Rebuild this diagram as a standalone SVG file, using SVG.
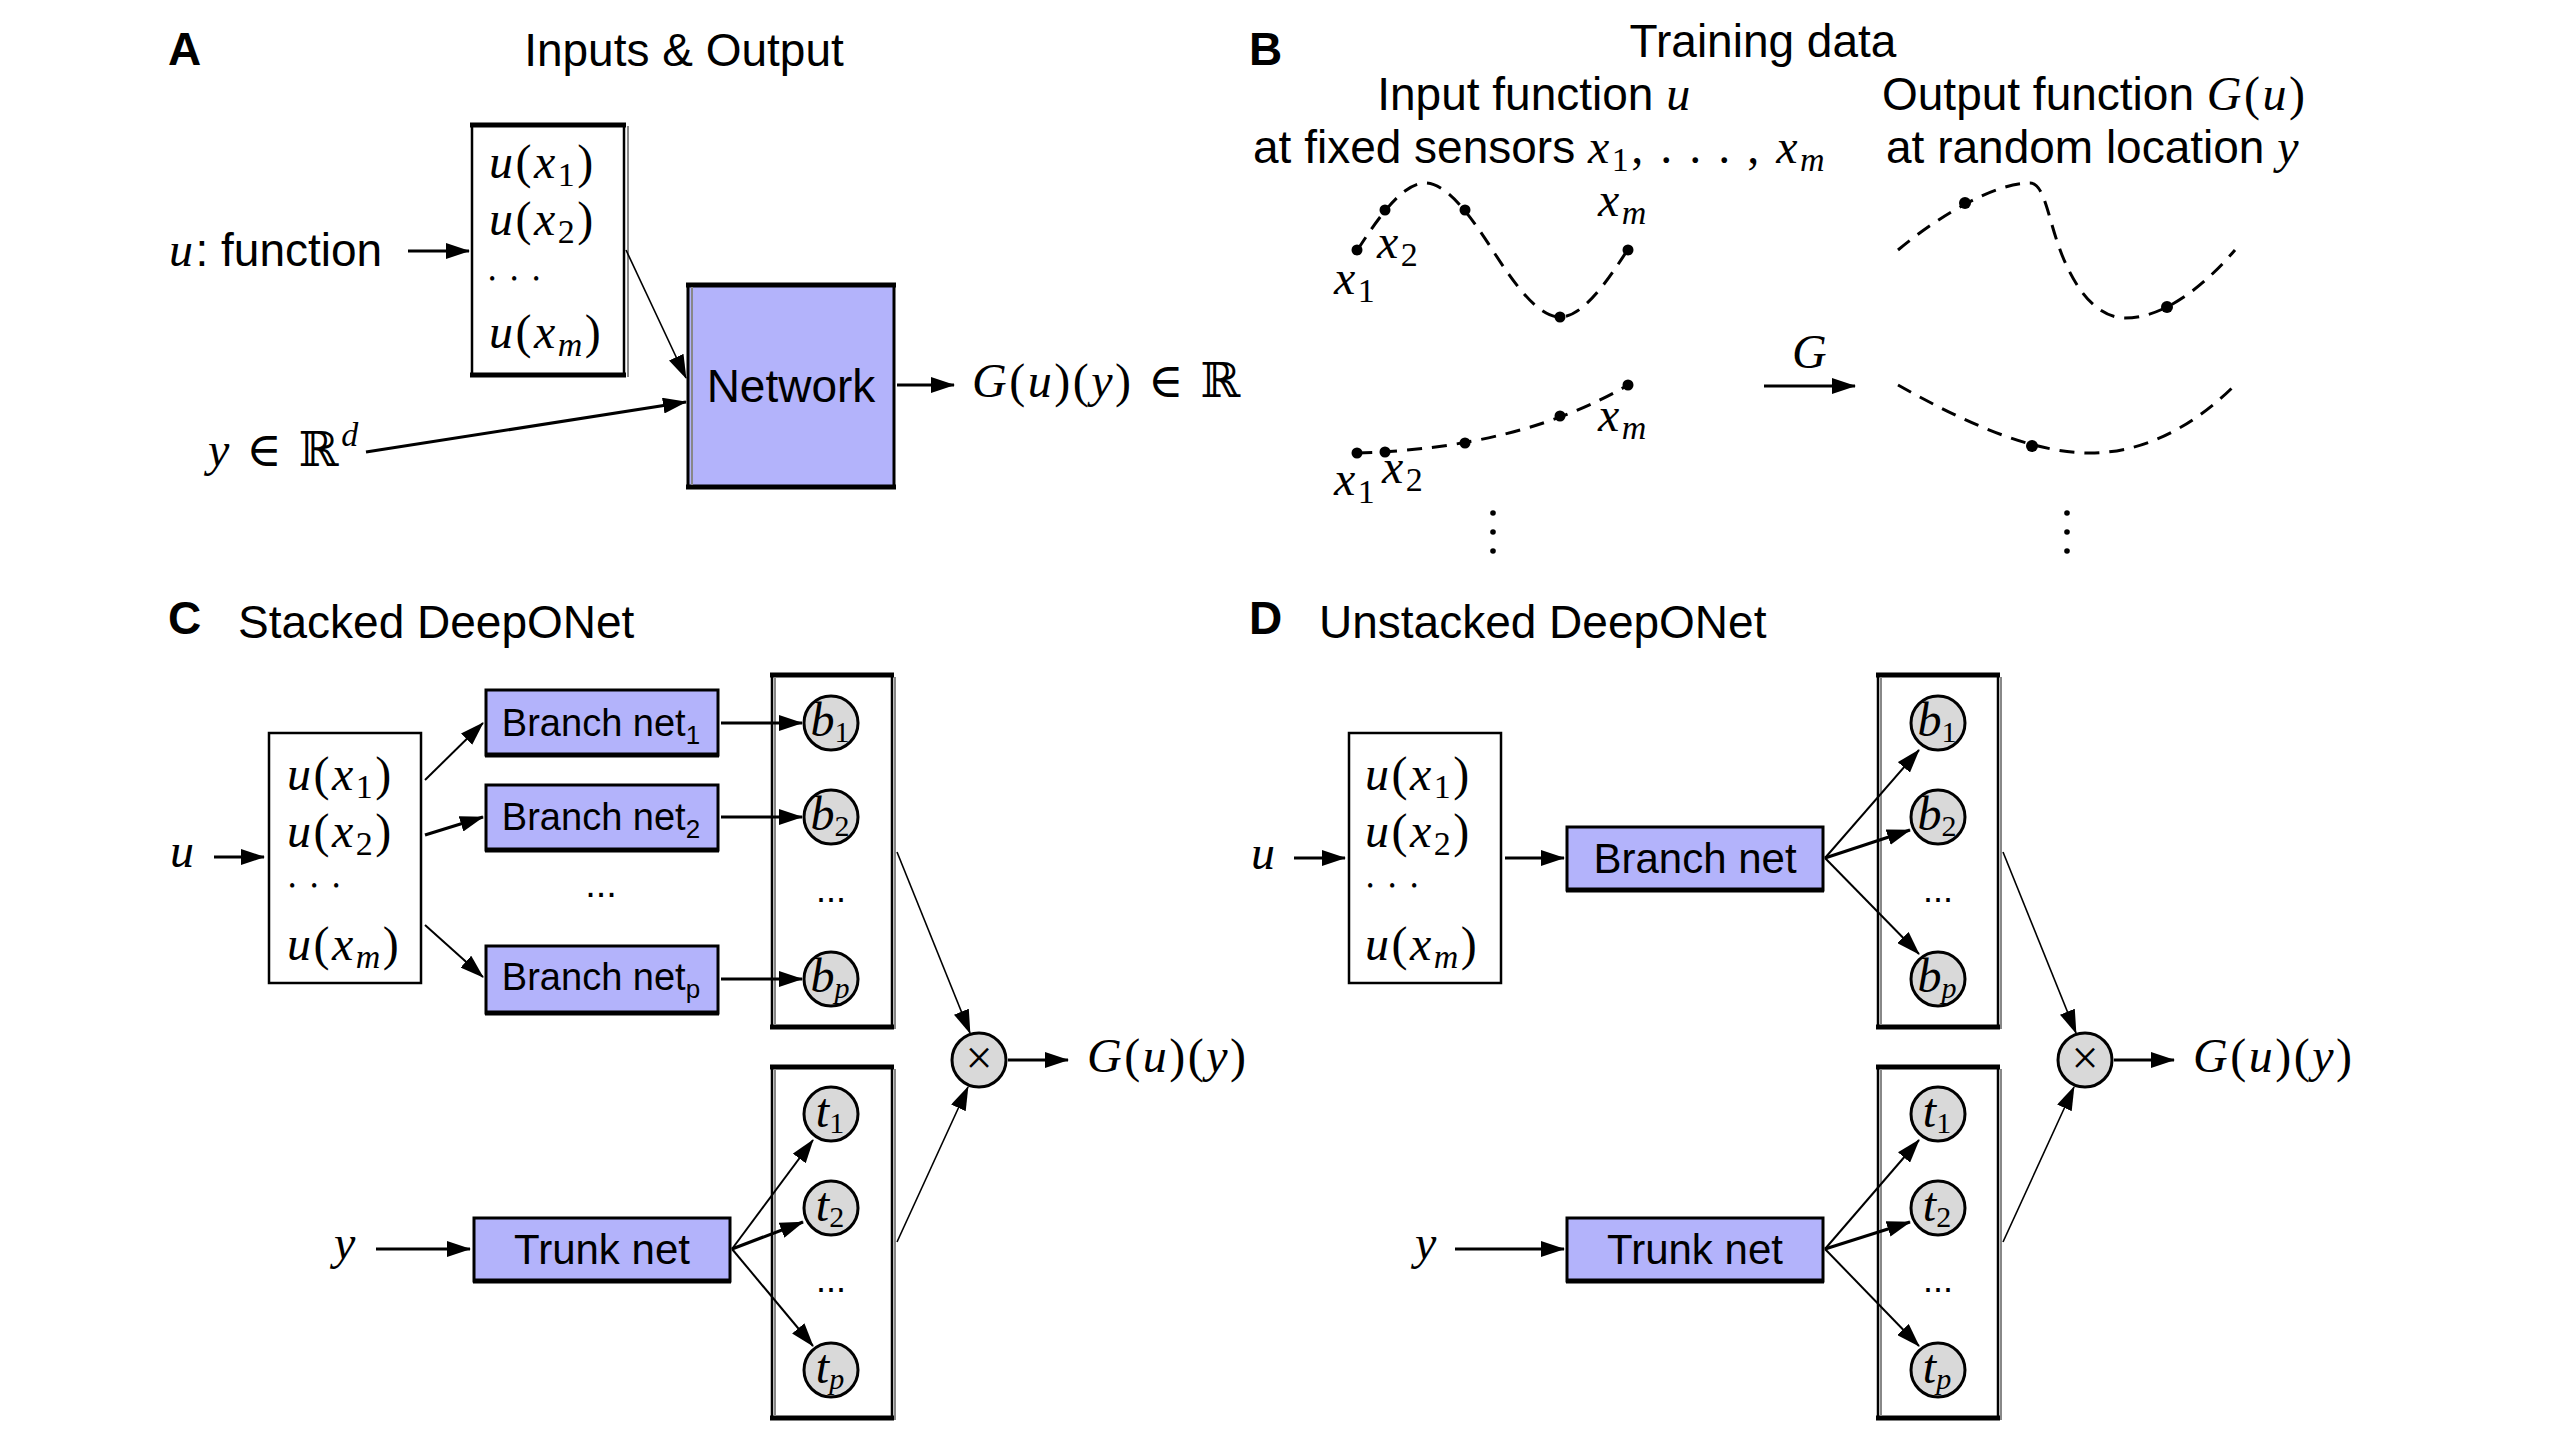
<svg xmlns="http://www.w3.org/2000/svg" width="2560" height="1440" viewBox="0 0 2560 1440">
<style>
.sans{font-family:'Liberation Sans',Arial,Helvetica,sans-serif;fill:#000;letter-spacing:0}
.lbl{font-family:'Liberation Sans',Arial,sans-serif;font-weight:bold;font-size:46px}
.ttl{font-size:46px}
.m{font-family:'Liberation Serif','DejaVu Serif',serif;font-size:48px;fill:#000;letter-spacing:2.5px}
.cl{letter-spacing:0}
.i{font-style:italic}
.dots{font-family:'Liberation Serif','DejaVu Serif',serif;font-size:18px;letter-spacing:5.6px}
.box{fill:#fff;stroke:#000;stroke-width:2.5}
.net{fill:#b3b3fb;stroke:#000;stroke-width:3}
.thk{stroke:#000;stroke-width:5}
.sh{stroke:#888;stroke-width:2}
.nd{fill:#d9d9d9;stroke:#000;stroke-width:3}
.c{fill:none;stroke:#000}
.a3{stroke-width:3.2}
.a2{stroke-width:2}
.a1{stroke-width:1.6}
.dash{fill:none;stroke:#000;stroke-width:3;stroke-dasharray:15 10}
</style>
<defs>
<marker id="ah" viewBox="0 0 24 16" refX="23" refY="8" markerWidth="24" markerHeight="16" markerUnits="userSpaceOnUse" orient="auto"><path d="M0,0 L24,8 L0,16 z" fill="#000"/></marker>
</defs>
<rect width="2560" height="1440" fill="#fff"/>

<!-- Panel labels and titles -->
<g id="titles">
<text class="lbl" x="168" y="65">A</text>
<text class="sans ttl" x="684" y="66" text-anchor="middle">Inputs &amp; Output</text>
<text class="lbl" x="1249" y="65">B</text>
<text class="sans ttl" x="1763" y="57" text-anchor="middle">Training data</text>
<text class="lbl" x="168" y="634">C</text>
<text class="sans ttl" x="238" y="638">Stacked DeepONet</text>
<text class="lbl" x="1249" y="634">D</text>
<text class="sans ttl" x="1319" y="638">Unstacked DeepONet</text>
</g>

<!-- ============ Panel A ============ -->
<g id="A-input">
<rect class="box" x="472" y="125" width="152" height="250"/>
<line class="thk" x1="470" y1="125" x2="626" y2="125"/>
<line class="thk" x1="470" y1="375" x2="626" y2="375"/>
<line class="sh" x1="628" y1="126" x2="628" y2="377"/>
<text class="m" x="489" y="178"><tspan class="i">u</tspan>(<tspan class="i">x</tspan><tspan font-size="34" dy="8">1</tspan><tspan dy="-8">)</tspan></text>
<text class="m" x="489" y="235"><tspan class="i">u</tspan>(<tspan class="i">x</tspan><tspan font-size="34" dy="8">2</tspan><tspan dy="-8">)</tspan></text>
<text class="dots" x="489" y="285">• • •</text>
<text class="m" x="489" y="348"><tspan class="i">u</tspan>(<tspan class="i">x</tspan><tspan class="i" font-size="34" dy="8">m</tspan><tspan dy="-8">)</tspan></text>
</g>
<g id="A-network">
<rect class="net" x="688" y="285" width="206" height="202"/>
<line class="thk" x1="686" y1="285" x2="896" y2="285"/>
<line class="thk" x1="686" y1="487" x2="896" y2="487"/>
<line class="sh" x1="692" y1="287" x2="692" y2="485"/>
<text class="sans" x="791" y="402" font-size="46" text-anchor="middle">Network</text>
</g>
<g id="A-labels">
<text class="m" x="169" y="266"><tspan class="i">u</tspan><tspan class="sans" font-size="46">: function</tspan></text>
<text class="m" x="208" y="466"><tspan class="i">y</tspan> ∈ ℝ<tspan class="i" font-size="34" dy="-20">d</tspan></text>
<text class="m" x="972" y="397"><tspan class="i">G</tspan>(<tspan class="i">u</tspan>)(<tspan class="i">y</tspan>) ∈ ℝ</text>
</g>
<g id="A-connectors">
<line class="c a3" x1="408" y1="251" x2="469" y2="251" marker-end="url(#ah)"/>
<line class="c a1" x1="626" y1="250" x2="686" y2="378" marker-end="url(#ah)"/>
<line class="c a3" x1="366" y1="452" x2="686" y2="402" marker-end="url(#ah)"/>
<line class="c a3" x1="897" y1="385" x2="954" y2="385" marker-end="url(#ah)"/>
</g>

<!-- ============ Panel B ============ -->
<g id="B-headers">
<text class="sans ttl" x="1535" y="110" text-anchor="middle">Input function <tspan class="m i">u</tspan></text>
<text class="sans ttl" x="1253" y="163">at fixed sensors <tspan class="m"><tspan class="i">x</tspan><tspan font-size="34" dy="8">1</tspan><tspan dy="-8">, . . . , </tspan><tspan class="i">x</tspan><tspan class="i" font-size="34" dy="8">m</tspan></tspan></text>
<text class="sans ttl" x="1882" y="110">Output function <tspan class="m"><tspan class="i">G</tspan>(<tspan class="i">u</tspan>)</tspan></text>
<text class="sans ttl" x="1886" y="163">at random location <tspan class="m i">y</tspan></text>
</g>
<g id="B-input-1">
<path class="dash" d="M1357.5,250 C1379.5,215.7 1403,183 1425,183 C1447,183 1470.5,215.7 1492.5,250 C1514.5,284.3 1538,317 1560,317 C1582,317 1605.5,284.3 1627.5,250"/>
<circle cx="1357" cy="250" r="5.5"/><circle cx="1385" cy="210" r="5.5"/><circle cx="1465" cy="210" r="5.5"/><circle cx="1560" cy="317" r="5.5"/><circle cx="1628" cy="250" r="5.5"/>
<text class="m" x="1377" y="258"><tspan class="i">x</tspan><tspan font-size="34" dy="8">2</tspan></text>
<text class="m" x="1334" y="294"><tspan class="i">x</tspan><tspan font-size="34" dy="8">1</tspan></text>
<text class="m" x="1598" y="216"><tspan class="i">x</tspan><tspan class="i" font-size="34" dy="8">m</tspan></text>
</g>
<g id="B-input-2">
<path class="dash" d="M1357,453 C1470,450 1560,425 1628,385"/>
<circle cx="1357" cy="453" r="5.5"/><circle cx="1385" cy="452" r="5.5"/><circle cx="1465" cy="443" r="5.5"/><circle cx="1560" cy="416" r="5.5"/><circle cx="1628" cy="385" r="5.5"/>
<text class="m" x="1334" y="495"><tspan class="i">x</tspan><tspan font-size="34" dy="8">1</tspan></text>
<text class="m" x="1382" y="483"><tspan class="i">x</tspan><tspan font-size="34" dy="8">2</tspan></text>
<text class="m" x="1598" y="431"><tspan class="i">x</tspan><tspan class="i" font-size="34" dy="8">m</tspan></text>
</g>
<g id="B-output-1">
<path class="dash" d="M1898,250 C1940,215 1995,183 2030,183 C2045,183 2048,220 2062,255 C2078,295 2100,318 2125,318 C2165,318 2205,285 2235,250"/>
<circle cx="1965" cy="203" r="6"/><circle cx="2167" cy="307" r="6"/>
</g>
<g id="B-output-2">
<path class="dash" d="M1898,385 C1960,420 2030,453 2090,453 C2150,453 2200,420 2235,385"/>
<circle cx="2032" cy="446" r="6"/>
</g>
<g id="B-dots">
<circle cx="1493" cy="513" r="2.8"/><circle cx="1493" cy="532" r="2.8"/><circle cx="1493" cy="551" r="2.8"/>
<circle cx="2067" cy="513" r="2.8"/><circle cx="2067" cy="532" r="2.8"/><circle cx="2067" cy="551" r="2.8"/>
</g>
<g id="B-connectors">
<line class="c a3" x1="1764" y1="386" x2="1855" y2="386" marker-end="url(#ah)"/>
<text class="m i" x="1792" y="368">G</text>
</g>

<!-- ============ Panel C ============ -->
<g id="C-input">
<rect class="box" x="269" y="733" width="152" height="250"/>
<text class="m" x="287" y="790"><tspan class="i">u</tspan>(<tspan class="i">x</tspan><tspan font-size="34" dy="8">1</tspan><tspan dy="-8">)</tspan></text>
<text class="m" x="287" y="847"><tspan class="i">u</tspan>(<tspan class="i">x</tspan><tspan font-size="34" dy="8">2</tspan><tspan dy="-8">)</tspan></text>
<text class="dots" x="289" y="892">• • •</text>
<text class="m" x="287" y="960"><tspan class="i">u</tspan>(<tspan class="i">x</tspan><tspan class="i" font-size="34" dy="8">m</tspan><tspan dy="-8">)</tspan></text>
</g>
<g id="C-u"><text class="m i" x="170" y="867">u</text></g>
<g id="C-y"><text class="m i" x="334" y="1259">y</text></g>
<g id="C-branch1">
<rect class="net" x="486" y="690" width="232" height="65"/>
<line class="thk" x1="485" y1="755" x2="719" y2="755"/>
<text class="sans" x="601" y="736" font-size="38" text-anchor="middle">Branch net<tspan font-size="26" dy="8">1</tspan></text>
</g>
<g id="C-branch2">
<rect class="net" x="486" y="785" width="232" height="65"/>
<line class="thk" x1="485" y1="850" x2="719" y2="850"/>
<text class="sans" x="601" y="830" font-size="38" text-anchor="middle">Branch net<tspan font-size="26" dy="8">2</tspan></text>
</g>
<text class="sans" x="601" y="897" font-size="38" text-anchor="middle">...</text>
<g id="C-branchp">
<rect class="net" x="486" y="946" width="232" height="67"/>
<line class="thk" x1="485" y1="1013" x2="719" y2="1013"/>
<text class="sans" x="601" y="990" font-size="38" text-anchor="middle">Branch net<tspan font-size="26" dy="8">p</tspan></text>
</g>
<g id="C-trunk">
<rect class="net" x="474" y="1218" width="256" height="63"/>
<line class="thk" x1="473" y1="1281" x2="731" y2="1281"/>
<text class="sans" x="602" y="1264" font-size="42" text-anchor="middle">Trunk net</text>
</g>
<g id="C-bcol">
<rect class="box" x="772" y="675" width="120" height="352"/>
<line class="thk" x1="770" y1="675" x2="894" y2="675"/>
<line class="thk" x1="770" y1="1027" x2="894" y2="1027"/>
<line class="sh" x1="775" y1="677" x2="775" y2="1025"/>
<line class="sh" x1="895" y1="677" x2="895" y2="1029"/>
<circle class="nd" cx="831" cy="723" r="27"/>
<text class="m i cl" x="830" y="736" font-size="44" text-anchor="middle">b<tspan font-style="normal" font-size="30" dy="6">1</tspan></text>
<circle class="nd" cx="831" cy="817" r="27"/>
<text class="m i cl" x="830" y="830" font-size="44" text-anchor="middle">b<tspan font-style="normal" font-size="30" dy="6">2</tspan></text>
<text class="sans" x="831" y="902" font-size="36" text-anchor="middle">...</text>
<circle class="nd" cx="831" cy="979" r="27"/>
<text class="m i cl" x="830" y="992" font-size="44" text-anchor="middle">b<tspan font-size="30" dy="6">p</tspan></text>
</g>
<g id="C-tcol">
<rect class="box" x="772" y="1067" width="120" height="351"/>
<line class="thk" x1="770" y1="1067" x2="894" y2="1067"/>
<line class="thk" x1="770" y1="1418" x2="894" y2="1418"/>
<line class="sh" x1="775" y1="1069" x2="775" y2="1416"/>
<line class="sh" x1="895" y1="1069" x2="895" y2="1420"/>
<circle class="nd" cx="831" cy="1114" r="27"/>
<text class="m i cl" x="830" y="1127" font-size="44" text-anchor="middle">t<tspan font-style="normal" font-size="30" dy="6">1</tspan></text>
<circle class="nd" cx="831" cy="1208" r="27"/>
<text class="m i cl" x="830" y="1221" font-size="44" text-anchor="middle">t<tspan font-style="normal" font-size="30" dy="6">2</tspan></text>
<text class="sans" x="831" y="1292" font-size="36" text-anchor="middle">...</text>
<circle class="nd" cx="831" cy="1370" r="27"/>
<text class="m i cl" x="830" y="1383" font-size="44" text-anchor="middle">t<tspan font-size="30" dy="6">p</tspan></text>
</g>
<g id="C-times">
<circle class="nd" cx="979" cy="1060" r="27"/>
<text class="m cl" x="979" y="1074" font-size="44" text-anchor="middle">×</text>
</g>
<g id="C-out"><text class="m" x="1087" y="1072"><tspan class="i">G</tspan>(<tspan class="i">u</tspan>)(<tspan class="i">y</tspan>)</text></g>
<g id="C-connectors">
<line class="c a3" x1="214" y1="857" x2="264" y2="857" marker-end="url(#ah)"/>
<line class="c a2" x1="425" y1="780" x2="483" y2="723" marker-end="url(#ah)"/>
<line class="c a3" x1="425" y1="835" x2="483" y2="817" marker-end="url(#ah)"/>
<line class="c a2" x1="425" y1="925" x2="483" y2="977" marker-end="url(#ah)"/>
<line class="c a3" x1="721" y1="723" x2="802" y2="723" marker-end="url(#ah)"/>
<line class="c a3" x1="721" y1="817" x2="802" y2="817" marker-end="url(#ah)"/>
<line class="c a3" x1="721" y1="979" x2="802" y2="979" marker-end="url(#ah)"/>
<line class="c a3" x1="376" y1="1249" x2="470" y2="1249" marker-end="url(#ah)"/>
<line class="c a2" x1="732" y1="1249" x2="813" y2="1140" marker-end="url(#ah)"/>
<line class="c a3" x1="732" y1="1249" x2="803" y2="1222" marker-end="url(#ah)"/>
<line class="c a2" x1="732" y1="1249" x2="813" y2="1346" marker-end="url(#ah)"/>
<line class="c a1" x1="897" y1="852" x2="970" y2="1033" marker-end="url(#ah)"/>
<line class="c a1" x1="897" y1="1242" x2="968" y2="1087" marker-end="url(#ah)"/>
<line class="c a3" x1="1008" y1="1060" x2="1068" y2="1060" marker-end="url(#ah)"/>
</g>

<!-- ============ Panel D ============ -->
<g id="D-input">
<rect class="box" x="1349" y="733" width="152" height="250"/>
<text class="m" x="1365" y="790"><tspan class="i">u</tspan>(<tspan class="i">x</tspan><tspan font-size="34" dy="8">1</tspan><tspan dy="-8">)</tspan></text>
<text class="m" x="1365" y="847"><tspan class="i">u</tspan>(<tspan class="i">x</tspan><tspan font-size="34" dy="8">2</tspan><tspan dy="-8">)</tspan></text>
<text class="dots" x="1367" y="892">• • •</text>
<text class="m" x="1365" y="960"><tspan class="i">u</tspan>(<tspan class="i">x</tspan><tspan class="i" font-size="34" dy="8">m</tspan><tspan dy="-8">)</tspan></text>
</g>
<g id="D-u"><text class="m i" x="1251" y="869">u</text></g>
<g id="D-y"><text class="m i" x="1415" y="1259">y</text></g>
<g id="D-branch">
<rect class="net" x="1567" y="827" width="256" height="63"/>
<line class="thk" x1="1566" y1="890" x2="1824" y2="890"/>
<text class="sans" x="1695" y="873" font-size="42" text-anchor="middle">Branch net</text>
</g>
<g id="D-trunk">
<rect class="net" x="1567" y="1218" width="256" height="63"/>
<line class="thk" x1="1566" y1="1281" x2="1824" y2="1281"/>
<text class="sans" x="1695" y="1264" font-size="42" text-anchor="middle">Trunk net</text>
</g>
<g id="D-bcol">
<rect class="box" x="1878" y="675" width="120" height="352"/>
<line class="thk" x1="1876" y1="675" x2="2000" y2="675"/>
<line class="thk" x1="1876" y1="1027" x2="2000" y2="1027"/>
<line class="sh" x1="1881" y1="677" x2="1881" y2="1025"/>
<line class="sh" x1="2001" y1="677" x2="2001" y2="1029"/>
<circle class="nd" cx="1938" cy="723" r="27"/>
<text class="m i cl" x="1937" y="736" font-size="44" text-anchor="middle">b<tspan font-style="normal" font-size="30" dy="6">1</tspan></text>
<circle class="nd" cx="1938" cy="817" r="27"/>
<text class="m i cl" x="1937" y="830" font-size="44" text-anchor="middle">b<tspan font-style="normal" font-size="30" dy="6">2</tspan></text>
<text class="sans" x="1938" y="902" font-size="36" text-anchor="middle">...</text>
<circle class="nd" cx="1938" cy="979" r="27"/>
<text class="m i cl" x="1937" y="992" font-size="44" text-anchor="middle">b<tspan font-size="30" dy="6">p</tspan></text>
</g>
<g id="D-tcol">
<rect class="box" x="1878" y="1067" width="120" height="351"/>
<line class="thk" x1="1876" y1="1067" x2="2000" y2="1067"/>
<line class="thk" x1="1876" y1="1418" x2="2000" y2="1418"/>
<line class="sh" x1="1881" y1="1069" x2="1881" y2="1416"/>
<line class="sh" x1="2001" y1="1069" x2="2001" y2="1420"/>
<circle class="nd" cx="1938" cy="1114" r="27"/>
<text class="m i cl" x="1937" y="1127" font-size="44" text-anchor="middle">t<tspan font-style="normal" font-size="30" dy="6">1</tspan></text>
<circle class="nd" cx="1938" cy="1208" r="27"/>
<text class="m i cl" x="1937" y="1221" font-size="44" text-anchor="middle">t<tspan font-style="normal" font-size="30" dy="6">2</tspan></text>
<text class="sans" x="1938" y="1292" font-size="36" text-anchor="middle">...</text>
<circle class="nd" cx="1938" cy="1370" r="27"/>
<text class="m i cl" x="1937" y="1383" font-size="44" text-anchor="middle">t<tspan font-size="30" dy="6">p</tspan></text>
</g>
<g id="D-times">
<circle class="nd" cx="2085" cy="1060" r="27"/>
<text class="m cl" x="2085" y="1074" font-size="44" text-anchor="middle">×</text>
</g>
<g id="D-out"><text class="m" x="2193" y="1072"><tspan class="i">G</tspan>(<tspan class="i">u</tspan>)(<tspan class="i">y</tspan>)</text></g>
<g id="D-connectors">
<line class="c a3" x1="1294" y1="858" x2="1345" y2="858" marker-end="url(#ah)"/>
<line class="c a3" x1="1505" y1="858" x2="1564" y2="858" marker-end="url(#ah)"/>
<line class="c a2" x1="1825" y1="858" x2="1919" y2="750" marker-end="url(#ah)"/>
<line class="c a3" x1="1825" y1="858" x2="1910" y2="830" marker-end="url(#ah)"/>
<line class="c a2" x1="1825" y1="858" x2="1919" y2="954" marker-end="url(#ah)"/>
<line class="c a3" x1="1455" y1="1249" x2="1564" y2="1249" marker-end="url(#ah)"/>
<line class="c a2" x1="1825" y1="1249" x2="1919" y2="1140" marker-end="url(#ah)"/>
<line class="c a3" x1="1825" y1="1249" x2="1910" y2="1222" marker-end="url(#ah)"/>
<line class="c a2" x1="1825" y1="1249" x2="1919" y2="1346" marker-end="url(#ah)"/>
<line class="c a1" x1="2003" y1="852" x2="2076" y2="1033" marker-end="url(#ah)"/>
<line class="c a1" x1="2003" y1="1242" x2="2074" y2="1087" marker-end="url(#ah)"/>
<line class="c a3" x1="2114" y1="1060" x2="2174" y2="1060" marker-end="url(#ah)"/>
</g>
</svg>
